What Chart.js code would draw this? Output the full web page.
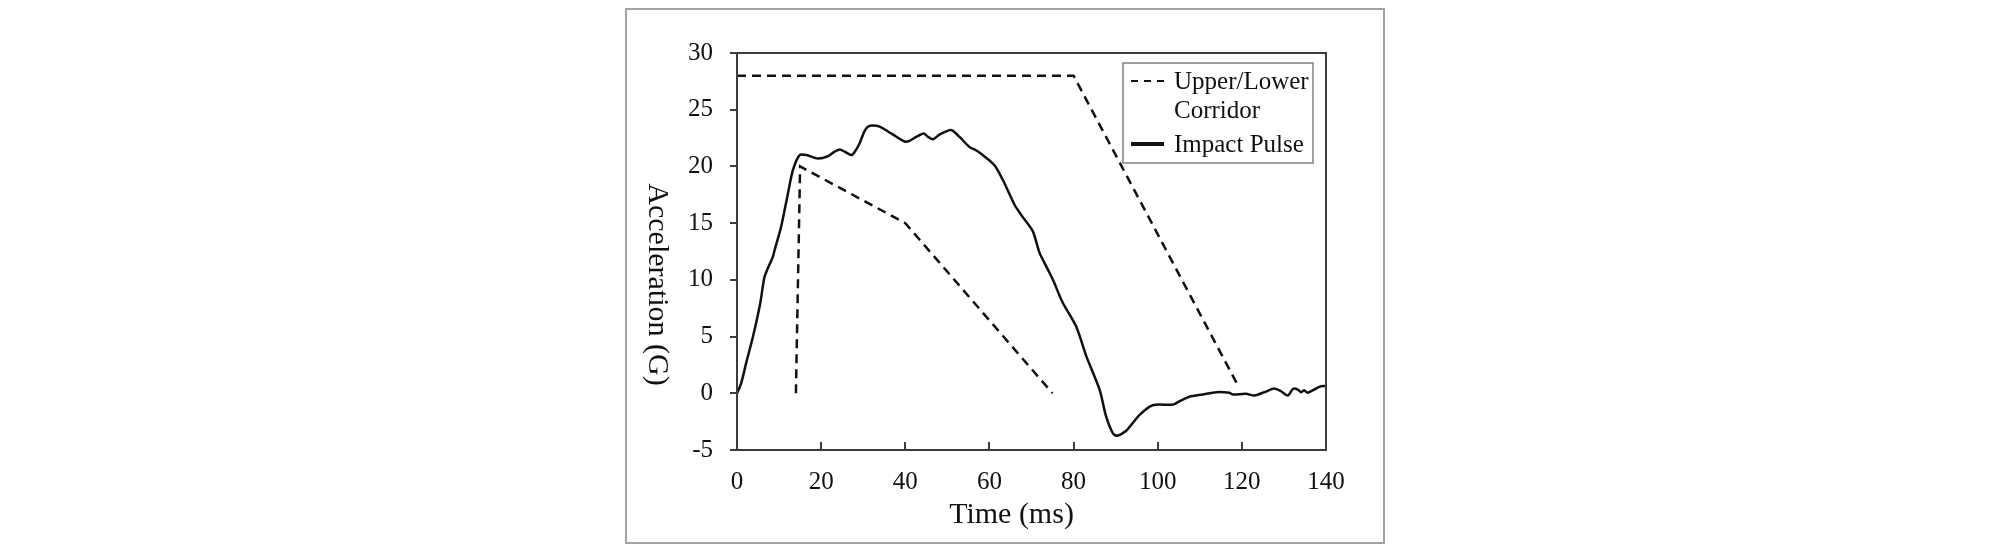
<!DOCTYPE html>
<html>
<head>
<meta charset="utf-8">
<title>Impact pulse</title>
<script src="https://cdn.jsdelivr.net/npm/chart.js@4"></script>
<style>
html, body { margin: 0; padding: 0; background: #fff; }
#frame { position: absolute; left: 625px; top: 8px; width: 760px; height: 536px; border: 2px solid #a3a3a3; box-sizing: border-box; }
#chart { position: absolute; left: 0; top: 0; }
</style>
</head>
<body>
<div id="frame"></div>
<canvas id="chart" width="2008" height="552"></canvas>
<script>
// values (time in ms, acceleration in G)
const pulseTime  = [0, 1, 2.2, 3.8, 5.5, 6.5, 7.3, 8.5, 9, 10.5, 12.1, 13.3, 14.9, 16.5, 19.2, 21.6, 23.2, 24.4, 25.6, 27.2, 28, 29.1, 30.3, 31.1, 32.3, 33.9, 37.1, 39.8, 41, 42.6, 44.4, 45.4, 46.6, 48.1, 50.5, 51.3, 52.9, 55.3, 56.9, 58.4, 61.2, 63.2, 66, 67.6, 70.3, 71.9, 73.9, 75.1, 77.4, 80.6, 83, 86.2, 87.7, 89.3, 90.3, 92.5, 95.7, 98.8, 103.6, 105.2, 107.5, 110.7, 113.9, 117, 117.8, 121, 123, 125.7, 127.7, 129.3, 130.9, 132.2, 133.3, 134.1, 134.8, 135.6, 137.2, 138.4, 140];
const pulseAccel = [0, 0.9, 2.7, 5.0, 7.9, 10.2, 11.0, 12.0, 12.7, 14.7, 17.6, 19.7, 21.0, 21.0, 20.7, 20.9, 21.3, 21.5, 21.3, 21.0, 21.3, 22.0, 23.1, 23.5, 23.6, 23.5, 22.8, 22.2, 22.25, 22.6, 22.9, 22.6, 22.4, 22.8, 23.2, 23.15, 22.6, 21.7, 21.4, 21.0, 20.1, 18.8, 16.6, 15.7, 14.3, 12.4, 10.9, 10.0, 8.0, 5.9, 3.3, 0.3, -2.0, -3.5, -3.75, -3.3, -1.9, -1.05, -1.0, -0.7, -0.3, -0.1, 0.1, 0.05, -0.1, -0.05, -0.2, 0.15, 0.42, 0.18, -0.2, 0.4, 0.33, 0.1, 0.27, 0.05, 0.33, 0.57, 0.65];

const upperTime  = [0, 80, 119.2];
const upperAccel = [28, 28, 0.6];
const lowerTime  = [14, 15, 40, 75];
const lowerAccel = [0, 20, 15, 0];

const xTicks = [0, 20, 40, 60, 80, 100, 120, 140];
const yTicks = [-5, 0, 5, 10, 15, 20, 25, 30];

const xTitle = 'Time (ms)';
const yTitle = 'Acceleration (G)';
const legendItems = [
    { lines: ['Upper/Lower', 'Corridor'], dash: [7, 6], width: 2 },
    { lines: ['Impact Pulse'], dash: [], width: 4 }
];

const ink = '#111';
const axisColor = '#3c3c3c';
const serif = '"Liberation Serif", "Times New Roman", serif';

function pts(xs, ys) {
    return xs.map((x, i) => ({ x: x, y: ys[i] }));
}

// box, inward x ticks, rotated titles and the legend are drawn by hand
const framePlugin = {
    id: 'frame',
    afterDraw(chart) {
        const ctx = chart.ctx;
        const a = chart.chartArea;
        const xs = chart.scales.x;
        ctx.save();
        ctx.strokeStyle = axisColor;
        ctx.lineWidth = 2;
        ctx.strokeRect(a.left, a.top, a.right - a.left, a.bottom - a.top);
        xTicks.forEach(v => {
            const px = Math.round(xs.getPixelForValue(v));
            ctx.beginPath();
            ctx.moveTo(px, a.bottom);
            ctx.lineTo(px, a.bottom - 8);
            ctx.stroke();
        });

        // axis titles
        ctx.fillStyle = ink;
        ctx.font = '30px ' + serif;
        ctx.textAlign = 'center';
        ctx.textBaseline = 'alphabetic';
        ctx.fillText(xTitle, (a.left + a.right) / 2 - 20, a.bottom + 73);
        ctx.save();
        ctx.translate(a.left - 88, (a.top + a.bottom) / 2 + 33);
        ctx.rotate(Math.PI / 2);
        ctx.fillText(yTitle, 0, 0);
        ctx.restore();

        // legend
        const bx = a.right - 203, by = a.top + 10, bw = 190, bh = 100;
        ctx.strokeStyle = '#808080';
        ctx.lineWidth = 1.5;
        ctx.strokeRect(bx, by, bw, bh);
        ctx.font = '25px ' + serif;
        ctx.textAlign = 'left';
        let base = by + 26;
        legendItems.forEach((item, i) => {
            const ly = base - 8;
            ctx.strokeStyle = ink;
            ctx.lineWidth = item.width;
            ctx.setLineDash(item.dash);
            ctx.beginPath();
            ctx.moveTo(bx + 8, ly);
            ctx.lineTo(bx + 41, ly);
            ctx.stroke();
            ctx.setLineDash([]);
            item.lines.forEach((t, j) => {
                ctx.fillText(t, bx + 51, base + j * 29);
            });
            base += item.lines.length * 29 + 5;
        });
        ctx.restore();
    }
};

const ctx = document.getElementById('chart').getContext('2d');
const myChart = new Chart(ctx, {
    type: 'line',
    data: {
        datasets: [{
            label: 'Upper Corridor',
            data: pts(upperTime, upperAccel),
            borderColor: ink,
            borderWidth: 2.5,
            borderDash: [9, 6],
            pointRadius: 0,
            tension: 0
        }, {
            label: 'Lower Corridor',
            data: pts(lowerTime, lowerAccel),
            borderColor: ink,
            borderWidth: 2.5,
            borderDash: [9, 6],
            pointRadius: 0,
            tension: 0
        }, {
            label: 'Impact Pulse',
            data: pts(pulseTime, pulseAccel),
            borderColor: ink,
            borderWidth: 2.5,
            pointRadius: 0,
            tension: 0.25
        }]
    },
    options: {
        responsive: false,
        animation: false,
        devicePixelRatio: 1,
        layout: { padding: { left: 600, right: 682, top: 53, bottom: 0 } },
        plugins: {
            legend: { display: false },
            tooltip: { enabled: false }
        },
        scales: {
            x: {
                type: 'linear',
                min: 0,
                max: 140,
                afterBuildTicks: s => { s.ticks = xTicks.map(v => ({ value: v })); },
                afterFit: s => { s.height = 102; },
                grid: { drawOnChartArea: false, drawTicks: false },
                border: { display: true, color: axisColor, width: 2 },
                ticks: { color: ink, padding: 17, maxRotation: 0, font: { family: serif, size: 25 } }
            },
            y: {
                min: -5,
                max: 30,
                afterBuildTicks: s => { s.ticks = yTicks.map(v => ({ value: v })); },
                afterFit: s => { s.width = 137; },
                grid: { drawOnChartArea: false, drawTicks: true, tickLength: 7, color: axisColor, lineWidth: 2 },
                border: { display: true, color: axisColor, width: 2 },
                ticks: { color: ink, padding: 17, font: { family: serif, size: 25 } }
            }
        }
    },
    plugins: [framePlugin]
});
</script>
</body>
</html>
